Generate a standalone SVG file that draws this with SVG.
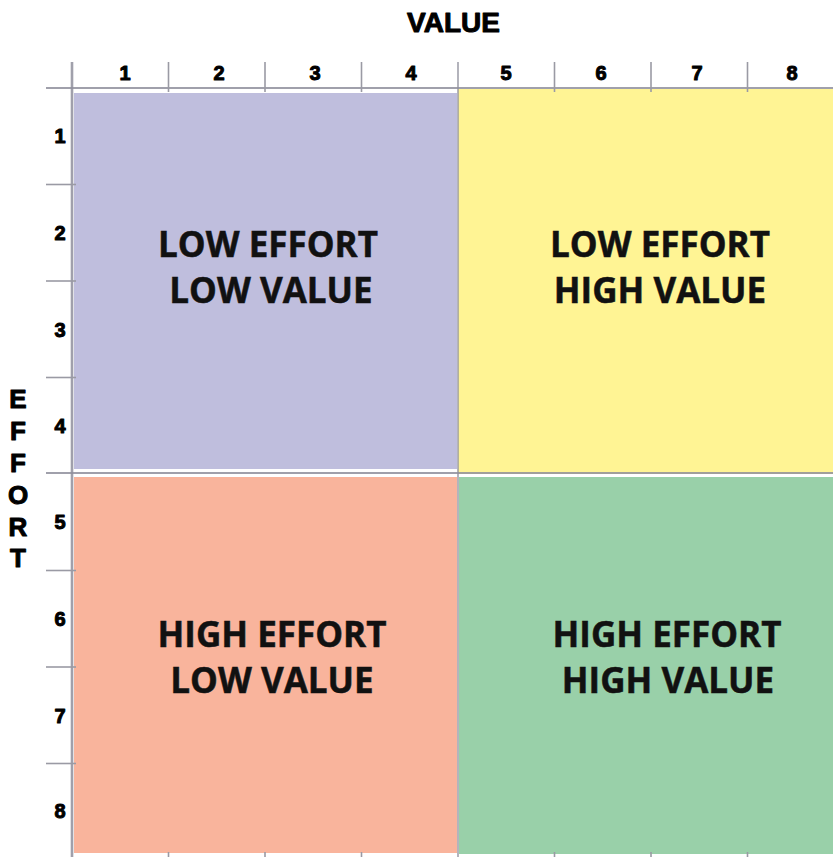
<svg xmlns="http://www.w3.org/2000/svg" width="833" height="857" viewBox="0 0 833 857">
  <style>
    .axis { fill: #000; stroke: #000; stroke-width: 1; stroke-linejoin: round; font-family: "Liberation Sans", Arial, sans-serif; font-weight: 700; }
    .num { font-size: 20px; text-anchor: middle; }
    .title { font-size: 28px; text-anchor: middle; }
    .quad { fill: #111; stroke: #111; stroke-width: 0.5; font-family: "Open Sans", "Liberation Sans", sans-serif; font-weight: 700; font-size: 35px; text-anchor: middle; }
    .grid { stroke: #8f8f9c; stroke-opacity: 0.85; fill: none; }
    .tick { stroke: #9a9aa4; stroke-width: 1.6; fill: none; }
  </style>
  <rect width="833" height="857" fill="#ffffff"/>

  <!-- quadrant fills -->
  <g id="q-low-effort-low-value">
    <rect x="74" y="93" width="383" height="376" fill="#bfbedd"/>
    <text class="quad" x="268" y="257">LOW EFFORT</text>
    <text class="quad" x="271" y="303">LOW VALUE</text>
  </g>
  <g id="q-low-effort-high-value">
    <rect x="458" y="89" width="375" height="385" fill="#fff494"/>
    <text class="quad" x="660" y="257">LOW EFFORT</text>
    <text class="quad" x="660" y="303">HIGH VALUE</text>
  </g>
  <g id="q-high-effort-low-value">
    <rect x="74" y="477" width="383" height="376" fill="#f9b49c"/>
    <text class="quad" x="272" y="647">HIGH EFFORT</text>
    <text class="quad" x="272" y="693">LOW VALUE</text>
  </g>
  <g id="q-high-effort-high-value">
    <rect x="459" y="477" width="374" height="377" fill="#99d0a9"/>
    <text class="quad" x="667" y="647">HIGH EFFORT</text>
    <text class="quad" x="668" y="693">HIGH VALUE</text>
  </g>

  <!-- axes, grid lines and ticks -->
  <g id="connectors">
    <line class="grid" x1="72" y1="62" x2="72" y2="857" stroke-width="2.6"/>
    <line class="grid" x1="46" y1="88" x2="833" y2="88" stroke-width="2"/>
    <line class="grid" x1="458" y1="62" x2="458" y2="857" stroke-width="1.6"/>
    <line class="grid" x1="46" y1="473" x2="833" y2="473" stroke-width="2"/>
    <g class="tick">
      <line x1="168.5" y1="62" x2="168.5" y2="92"/>
      <line x1="265" y1="62" x2="265" y2="92"/>
      <line x1="361.5" y1="62" x2="361.5" y2="92"/>
      <line x1="554.5" y1="62" x2="554.5" y2="92"/>
      <line x1="651" y1="62" x2="651" y2="92"/>
      <line x1="747.5" y1="62" x2="747.5" y2="92"/>
      <line x1="46" y1="184.5" x2="76" y2="184.5"/>
      <line x1="46" y1="281" x2="76" y2="281"/>
      <line x1="46" y1="377.5" x2="76" y2="377.5"/>
      <line x1="46" y1="570.5" x2="76" y2="570.5"/>
      <line x1="46" y1="667" x2="76" y2="667"/>
      <line x1="46" y1="763.5" x2="76" y2="763.5"/>
      <line x1="168.5" y1="852" x2="168.5" y2="857"/>
      <line x1="265" y1="852" x2="265" y2="857"/>
      <line x1="361.5" y1="852" x2="361.5" y2="857"/>
      <line x1="554.5" y1="852" x2="554.5" y2="857"/>
      <line x1="651" y1="852" x2="651" y2="857"/>
      <line x1="747.5" y1="852" x2="747.5" y2="857"/>
    </g>
  </g>

  <!-- axis titles -->
  <text class="axis title" x="453.5" y="32">VALUE</text>
  <g class="axis" font-size="26" text-anchor="middle" stroke-width="1.4">
    <text x="18" y="408">E</text>
    <text x="18" y="440">F</text>
    <text x="18" y="472">F</text>
    <text x="18" y="504">O</text>
    <text x="18" y="536">R</text>
    <text x="18" y="567">T</text>
  </g>

  <!-- value scale -->
  <g class="axis num">
    <text x="125" y="80">1</text>
    <text x="219" y="80">2</text>
    <text x="315" y="80">3</text>
    <text x="411" y="80">4</text>
    <text x="506" y="80">5</text>
    <text x="601" y="80">6</text>
    <text x="697" y="80">7</text>
    <text x="792" y="80">8</text>
  </g>
  <!-- effort scale -->
  <g class="axis num">
    <text x="60" y="143">1</text>
    <text x="60" y="240">2</text>
    <text x="60" y="337">3</text>
    <text x="60" y="433">4</text>
    <text x="60" y="529">5</text>
    <text x="60" y="626">6</text>
    <text x="60" y="723">7</text>
    <text x="60" y="818">8</text>
  </g>
</svg>
